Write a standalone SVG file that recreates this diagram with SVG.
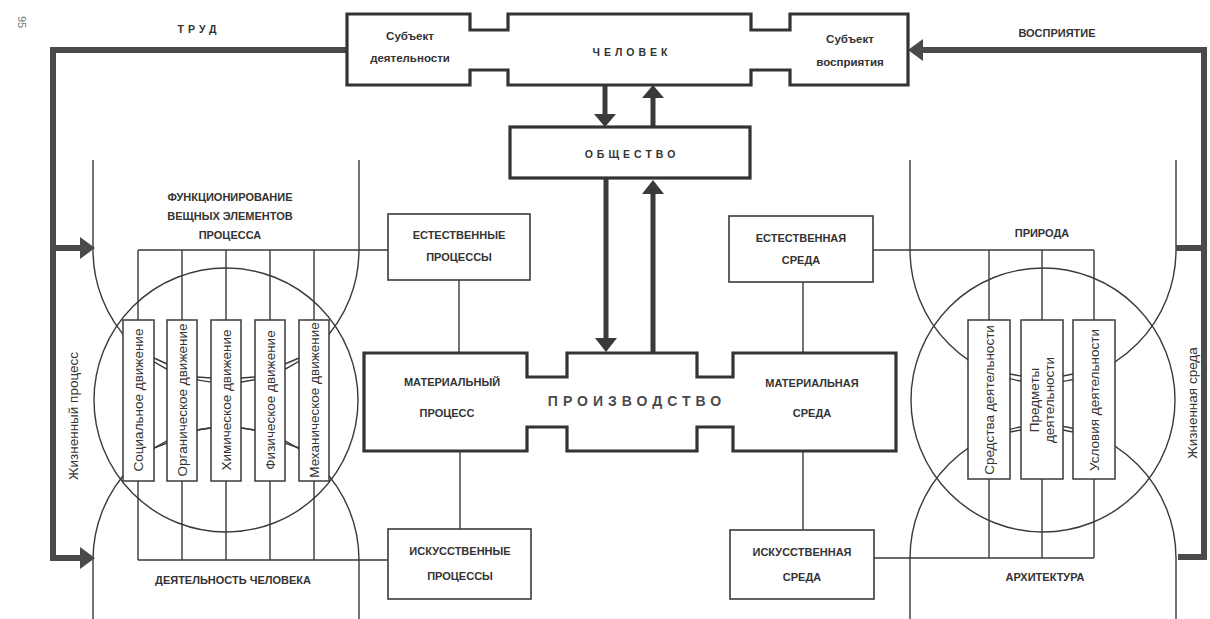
<svg xmlns="http://www.w3.org/2000/svg" width="1210" height="619" viewBox="0 0 1210 619">
<style>
.bg{fill:#fff}
.thin{fill:none;stroke:#3a3a3a;stroke-width:1.4}
.box{fill:#fff;stroke:#3a3a3a;stroke-width:1.6}
.bar{fill:#fff;stroke:#3a3a3a;stroke-width:1.5}
.heavy{fill:#fff;stroke:#333;stroke-width:3.2}
.flow{fill:none;stroke:#4a4a4a;stroke-width:6}
.head{fill:#4a4a4a}
.arr{fill:none;stroke:#3a3a3a;stroke-width:5}
.ahead{fill:#3a3a3a}
text{font-family:"Liberation Sans",Arial,sans-serif;fill:#333;text-anchor:middle}
.cap{font-size:11px;font-weight:bold}
.sp{font-size:10.5px;font-weight:bold;letter-spacing:4px}
.big{font-size:14px;font-weight:bold;letter-spacing:5px;fill:#4a4a4a}
.sub{font-size:11.5px;font-weight:bold}
.vt{font-size:13.5px}
</style>
<rect class="bg" x="0" y="0" width="1210" height="619"/>

<text x="18" y="22" transform="rotate(90 18 22)" style="font-size:11px;fill:#777">95</text>

<!-- region shapes -->
<g id="left-region">
  <path class="thin" d="M93,160 V250 A133,133 0 0 0 359,250 V160"/>
  <path class="thin" d="M93,619 V560 A133,133 0 0 1 359,560 V619"/>
  <circle class="thin" cx="226" cy="400" r="132"/>
</g>
<g id="right-region">
  <path class="thin" d="M910,160 V250 A133,133 0 0 0 1176,250 V160"/>
  <path class="thin" d="M910,619 V558 A133,133 0 0 1 1176,558 V619"/>
  <circle class="thin" cx="1043" cy="400" r="132"/>
</g>

<!-- connectors -->
<g id="connectors">
  <path class="thin" d="M138,250 H388 M138,250 V320 M182,250 V320 M226,250 V320 M270,250 V320 M314,250 V320"/>
  <path class="thin" d="M138,560 H388 M138,481 V560 M182,481 V560 M226,481 V560 M270,481 V560 M314,481 V560"/>
  <path class="thin" d="M154,358 L167,364 M154,448 L167,443 M197,377 L211,378 M197,430 L211,428 M241,378 L255,377 M241,428 L255,430 M285,364 L299,358 M285,443 L299,448"/>
  <path class="thin" d="M873,250 H1094 M989,250 V320 M1042,250 V320 M1094,250 V320"/>
  <path class="thin" d="M874,558 H1094 M989,479 V558 M1042,479 V558 M1094,479 V558"/>
  <path class="thin" d="M1010,374 L1021,376 M1010,432 L1021,430 M1063,376 L1073,374 M1063,430 L1073,432"/>
  <path class="thin" d="M459,280 V353 M460,451 V529 M803,282 V353 M803,451 V530"/>
  <path class="flow" d="M348,50 H53 V558 H82"/>
  <path class="flow" d="M53,248 H82"/>
  <polygon class="head" points="80,237 95,248 80,259"/>
  <polygon class="head" points="80,547 95,558 80,569"/>
  <path class="flow" d="M1178,557 H1204 V50 H921"/>
  <path class="flow" d="M1176,248 H1204"/>
  <polygon class="head" points="923,39 908,50 923,61"/>
  <path class="arr" d="M605,85 V116"/>
  <polygon class="ahead" points="594,114 616,114 605,127"/>
  <path class="arr" d="M653,127 V96"/>
  <polygon class="ahead" points="642,98 664,98 653,85"/>
  <path class="arr" d="M606,178 V340"/>
  <polygon class="ahead" points="595,338 617,338 606,352"/>
  <path class="arr" d="M653,353 V192"/>
  <polygon class="ahead" points="642,194 664,194 653,180"/>
</g>

<g id="labels">
  <text class="sp" x="199" y="33">ТРУД</text>
  <text class="cap" x="1057" y="37">ВОСПРИЯТИЕ</text>
  <text class="vt" x="0" y="0" transform="translate(78 416) rotate(-90)">Жизненный процесс</text>
  <text class="vt" x="0" y="0" transform="translate(1197 403) rotate(-90)">Жизненная среда</text>
  <text class="cap" x="230" y="201">ФУНКЦИОНИРОВАНИЕ</text>
  <text class="cap" x="230" y="220">ВЕЩНЫХ ЭЛЕМЕНТОВ</text>
  <text class="cap" x="230" y="239">ПРОЦЕССА</text>
  <text class="cap" x="233" y="584">ДЕЯТЕЛЬНОСТЬ ЧЕЛОВЕКА</text>
  <text class="cap" x="1042" y="237">ПРИРОДА</text>
  <text class="cap" x="1045" y="581">АРХИТЕКТУРА</text>
</g>

<g id="chelovek">
  <path class="heavy" d="M347,14 H470 V30 H508 V14 H751 V30 H790 V14 H908 V85 H790 V70 H751 V85 H508 V70 H470 V85 H347 Z"/>
  <text class="sub" x="410" y="40">Субъект</text>
  <text class="sub" x="410" y="62">деятельности</text>
  <text class="sp" x="632" y="56">ЧЕЛОВЕК</text>
  <text class="sub" x="850" y="43">Субъект</text>
  <text class="sub" x="850" y="66">восприятия</text>
</g>

<g id="obshchestvo">
  <rect class="heavy" x="510" y="127" width="240" height="51"/>
  <text class="sp" x="632" y="158">ОБЩЕСТВО</text>
</g>

<g id="proizvodstvo">
  <path class="heavy" d="M364,353 H527 V377 H567 V353 H697 V377 H733 V353 H896 V451 H733 V427 H697 V451 H567 V427 H527 V451 H364 Z"/>
  <text class="cap" x="452" y="386">МАТЕРИАЛЬНЫЙ</text>
  <text class="cap" x="447" y="417">ПРОЦЕСС</text>
  <text class="big" x="637" y="406">ПРОИЗВОДСТВО</text>
  <text class="cap" x="812" y="387">МАТЕРИАЛЬНАЯ</text>
  <text class="cap" x="812" y="417">СРЕДА</text>
</g>

<g id="est-processy">
  <rect class="box" x="388" y="214" width="142" height="66"/>
  <text class="cap" x="459" y="239">ЕСТЕСТВЕННЫЕ</text>
  <text class="cap" x="459" y="261">ПРОЦЕССЫ</text>
</g>
<g id="isk-processy">
  <rect class="box" x="388" y="529" width="143" height="70"/>
  <text class="cap" x="460" y="555">ИСКУССТВЕННЫЕ</text>
  <text class="cap" x="460" y="580">ПРОЦЕССЫ</text>
</g>
<g id="est-sreda">
  <rect class="box" x="729" y="216" width="144" height="66"/>
  <text class="cap" x="801" y="242">ЕСТЕСТВЕННАЯ</text>
  <text class="cap" x="801" y="264">СРЕДА</text>
</g>
<g id="isk-sreda">
  <rect class="box" x="730" y="530" width="144" height="69"/>
  <text class="cap" x="802" y="556">ИСКУССТВЕННАЯ</text>
  <text class="cap" x="802" y="581">СРЕДА</text>
</g>

<g id="bar-social">
  <rect class="bar" x="123" y="320" width="31" height="161"/>
  <text class="vt" transform="translate(143 400) rotate(-90)">Социальное  движение</text>
</g>
<g id="bar-organic">
  <rect class="bar" x="167" y="320" width="30" height="161"/>
  <text class="vt" transform="translate(187 400) rotate(-90)">Органическое движение</text>
</g>
<g id="bar-chemical">
  <rect class="bar" x="211" y="320" width="30" height="161"/>
  <text class="vt" transform="translate(231 400) rotate(-90)">Химическое  движение</text>
</g>
<g id="bar-physical">
  <rect class="bar" x="255" y="320" width="30" height="161"/>
  <text class="vt" transform="translate(275 400) rotate(-90)">Физическое движение</text>
</g>
<g id="bar-mechanical">
  <rect class="bar" x="299" y="320" width="30" height="161"/>
  <text class="vt" transform="translate(319 400) rotate(-90)">Механическое движение</text>
</g>

<g id="bar-sredstva">
  <rect class="bar" x="968" y="320" width="42" height="159"/>
  <text class="vt" transform="translate(994 400) rotate(-90)">Средства деятельности</text>
</g>
<g id="bar-predmety">
  <rect class="bar" x="1021" y="320" width="42" height="159"/>
  <text class="vt" transform="translate(1039 400) rotate(-90)">Предметы</text>
  <text class="vt" transform="translate(1054 400) rotate(-90)">деятельности</text>
</g>
<g id="bar-usloviya">
  <rect class="bar" x="1073" y="320" width="42" height="159"/>
  <text class="vt" transform="translate(1099 400) rotate(-90)">Условия деятельности</text>
</g>
</svg>
